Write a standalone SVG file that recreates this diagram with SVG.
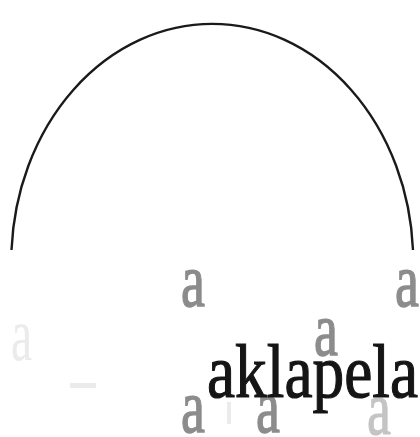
<svg xmlns="http://www.w3.org/2000/svg" width="420" height="437" viewBox="0 0 420 437">
<style>
.arc{fill:none;stroke:#1a1a1a;stroke-width:2.4}
.main{fill:#151515;stroke:#151515;stroke-width:1.2}
.g{fill:#8c8c8c;stroke:#8c8c8c;stroke-width:1.5}
.gl{fill:#c4c4c4;stroke:#c4c4c4;stroke-width:1.2}
.ghost{fill:#ebebeb}
</style>
<rect width="420" height="437" fill="#ffffff"/>
<g id="arch">
<path class="arc" d="M 11.5 250 A 201 238 0 0 1 413 250"/>
</g>
<g id="letters" font-family="Liberation Serif" font-size="77">
<text class="g" transform="translate(181,306) scale(0.7,1)">a</text>
<text class="g" transform="translate(395,306) scale(0.7,1)">a</text>
<text class="g" transform="translate(314,355) scale(0.7,1)">a</text>
<text class="g" transform="translate(181,432) scale(0.7,1)">a</text>
<text class="g" transform="translate(256,432) scale(0.7,1)">a</text>
<text class="gl" transform="translate(367,434) scale(0.7,1)">a</text>
<text class="ghost" transform="translate(11,360) scale(0.62,1)">a</text>
<rect class="ghost" x="70" y="383" width="26" height="5"/>
<rect class="ghost" x="227" y="402" width="4" height="22"/>
</g>
<g id="word" font-family="Liberation Serif" font-size="77">
<text class="main" x="207" y="397" textLength="211" lengthAdjust="spacingAndGlyphs">aklapela</text>
</g>
</svg>
